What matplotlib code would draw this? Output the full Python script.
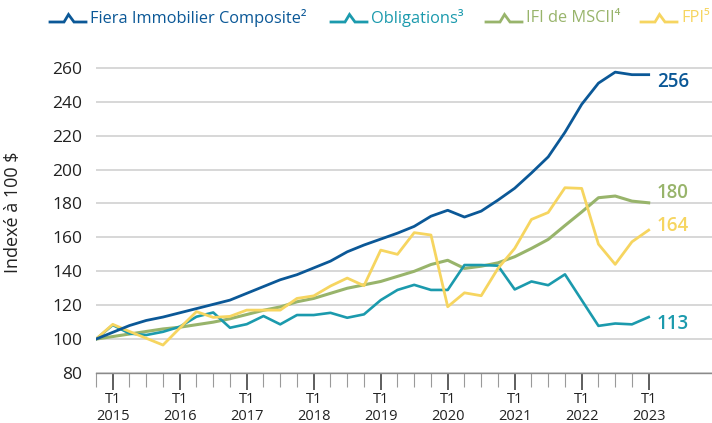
import numpy as np
import matplotlib.pyplot as plt
from matplotlib.lines import Line2D

plt.rcParams['font.family'] = ['Open Sans', 'DejaVu Sans']

# quarterly index, T4 2014 -> T1 2023 (base 100)
fiera = [100, 104, 108, 111, 113, 115.5, 118, 120.5, 123, 127, 131, 135, 138, 142,
         146, 151.5, 155.5, 159, 162.5, 166.5, 172.5, 176, 172, 175.5, 182, 189, 198,
         207.5, 222, 238.5, 251, 257.5, 256, 256]
oblig = [100, 108.3, 103.3, 102.4, 104.3, 107.3, 113.2, 115.7, 106.7, 108.8, 113.6,
         108.7, 114.2, 114.2, 115.5, 112.6, 114.6, 123, 129, 132, 129, 129, 143.7,
         143.7, 143.3, 129.3, 134, 131.8, 138.2, 123, 107.8, 109.2, 108.7, 113]
msci = [100, 101.5, 103, 104.5, 106, 107, 108.5, 110, 112, 114.5, 117, 119, 122, 124,
        127, 130, 132, 134, 137, 140, 144, 146.5, 141.7, 143, 145, 148.6, 153.5, 158.8,
        167, 175, 183.4, 184.4, 181.4, 180.4]
fpi = [100, 108.7, 104.5, 100.5, 96.5, 106.5, 116.2, 112.8, 113.4, 117.1, 117.1, 117.1,
       124, 125.5, 131.3, 136, 131.5, 152.5, 150, 162.8, 161.4, 119.1, 127.3, 125.6,
       141.7, 153.5, 170.6, 174.7, 189.3, 188.9, 156, 144.1, 157.4, 164.3]
years = list(range(2015, 2024))
end_labels = ['256', '180', '164', '113']
legend_labels = ['Fiera Immobilier Composite²', 'Obligations³', 'IFI de MSCII⁴', 'FPI⁵']

blue = '#0b5897'
teal = '#1b9aad'
green = '#98b46b'
yellow = '#f6d560'

W, H = 712, 423
fig = plt.figure(figsize=(W / 100, H / 100), dpi=100)
ax = fig.add_axes([96 / W, 50 / H, 616 / W, 308.5 / H])

x = np.arange(len(fiera))
l2, = ax.plot(x, oblig, color=teal, lw=1.9, zorder=3)
l3, = ax.plot(x, msci, color=green, lw=2.2, zorder=2)
l4, = ax.plot(x, fpi, color=yellow, lw=2.0, zorder=4)
l1, = ax.plot(x, fiera, color=blue, lw=2.0, zorder=5)

ax.set_xlim(0, 36.78)
ax.set_ylim(80, 262)
ax.set_yticks(range(80, 261, 20))
ax.grid(axis='y', color='#d4d4d4', lw=1.3)
ax.set_axisbelow(True)
for s in ['top', 'right', 'left']:
    ax.spines[s].set_visible(False)
ax.spines['bottom'].set_color('#8a8a8a')
ax.spines['bottom'].set_linewidth(1.0)

ax.tick_params(axis='y', length=0, pad=10, labelsize=12.5, labelcolor='#222222')
major = [1 + 4 * i for i in range(len(years))]
ax.set_xticks(major)
ax.set_xticklabels([f'T1\n{y}' for y in years], fontsize=10.5, color='#222222', linespacing=1.1)
ax.set_xticks([i for i in x if i not in major], minor=True)
ax.tick_params(axis='x', which='major', length=12, width=1.1, color='#333333', pad=2)
ax.tick_params(axis='x', which='minor', length=10, width=0.8, color='#9a9a9a')

ax.set_ylabel('Indexé à 100 $', fontsize=13, color='#222222')
ax.yaxis.set_label_coords(-0.12, 0.52)

# end values
for line, vals, txt, dy in [(l1, fiera, end_labels[0], -5), (l3, msci, end_labels[1], 7),
                            (l4, fpi, end_labels[2], 3), (l2, oblig, end_labels[3], -5)]:
    ax.annotate(txt, xy=(x[-1], vals[-1]), xytext=(6, dy), textcoords='offset points',
                ha='left', va='center', fontsize=13.5, fontweight='semibold',
                color=line.get_color())

# legend drawn by hand: line icon with a small bump, then coloured text
icon_x = [50, 331, 486, 641]
for line, lab, x0 in zip([l1, l2, l3, l4], legend_labels, icon_x):
    px = np.array([0, 14, 18.5, 24, 36]) + x0
    py = np.array([22, 22, 14.5, 22, 22])
    fig.add_artist(Line2D(px / W, 1 - py / H, color=line.get_color(), lw=2.0,
                          transform=fig.transFigure, solid_joinstyle='miter'))
    fig.text((x0 + 40) / W, 1 - 18 / H, lab, color=line.get_color(), fontsize=11.8,
             ha='left', va='center')

fig.savefig('out.png', dpi=100)
